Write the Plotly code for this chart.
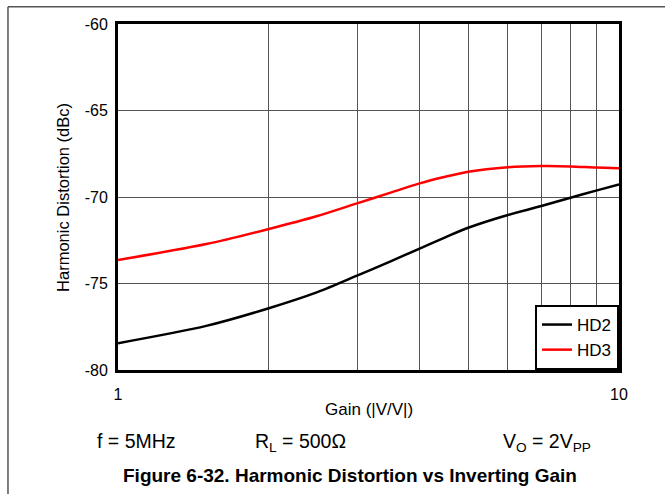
import plotly.graph_objects as go

# Harmonic distortion vs inverting gain, f = 5 MHz, RL = 500 ohm, VO = 2 Vpp
gain = [1, 1.5, 2, 2.5, 3, 3.5, 4, 4.5, 5, 6, 7, 8, 9, 10]
hd2 = [-78.45, -77.45, -76.43, -75.5, -74.55, -73.72, -72.98, -72.33, -71.78,
       -71.04, -70.52, -70.04, -69.63, -69.27]
hd3 = [-73.64, -72.72, -71.85, -71.1, -70.37, -69.75, -69.21, -68.83, -68.54,
       -68.28, -68.21, -68.23, -68.3, -68.34]

x_tickvals = [1, 2, 3, 4, 5, 6, 7, 8, 9, 10]
x_ticktext = ["1", "", "", "", "", "", "", "", "", "10"]
y_tickvals = [-80, -75, -70, -65, -60]
y_ticktext = ["-80", "-75", "-70", "-65", "-60"]

FONT = "Liberation Sans, Arial, sans-serif"

fig = go.Figure()
fig.add_trace(go.Scatter(x=gain, y=hd2, mode="lines", name="HD2",
                         line=dict(color="black", width=2.5, shape="spline", smoothing=0.8)))
fig.add_trace(go.Scatter(x=gain, y=hd3, mode="lines", name="HD3",
                         line=dict(color="#ff0000", width=2.5, shape="spline", smoothing=0.8)))

fig.update_layout(
    width=665, height=494,
    margin=dict(l=118, r=46, t=24, b=124),
    paper_bgcolor="white", plot_bgcolor="white",
    font=dict(family=FONT, size=16, color="black"),
    showlegend=True,
    legend=dict(x=1, xanchor="right", y=0, yanchor="bottom",
                bgcolor="white", bordercolor="black", borderwidth=2,
                font=dict(size=17), tracegroupgap=0),
)
fig.update_xaxes(type="log", range=[0, 1], tickvals=x_tickvals, ticktext=x_ticktext,
                 showgrid=True, gridcolor="#555555", gridwidth=1,
                 showline=True, linecolor="black", linewidth=3, mirror=True,
                 ticks="", ticklabelstandoff=8, zeroline=False)
fig.update_yaxes(range=[-80, -60], tickvals=y_tickvals, ticktext=y_ticktext,
                 showgrid=True, gridcolor="#555555", gridwidth=1,
                 showline=True, linecolor="black", linewidth=3, mirror=True,
                 ticks="", ticklabelstandoff=4, zeroline=False)

# Axis titles, conditions line and caption
fig.add_annotation(text="Harmonic Distortion (dBc)", textangle=-90,
                   xref="paper", yref="paper", x=-0.11, y=0.5,
                   xanchor="center", yanchor="middle",
                   showarrow=False, font=dict(size=16.5))
fig.add_annotation(text="Gain (|V/V|)", xref="paper", yref="paper",
                   x=0.501, y=-0.1156, xanchor="center", yanchor="middle",
                   showarrow=False, font=dict(size=17))
fig.add_annotation(text="f = 5MHz", xref="paper", yref="paper",
                   x=0.036, y=-0.205, xanchor="center", yanchor="middle",
                   showarrow=False, font=dict(size=19.5))
fig.add_annotation(text="R<sub>L</sub> = 500Ω", xref="paper", yref="paper",
                   x=0.365, y=-0.21, xanchor="center", yanchor="middle",
                   showarrow=False, font=dict(size=19.5))
fig.add_annotation(text="V<sub>O</sub> = 2V<sub>PP</sub>", xref="paper", yref="paper",
                   x=0.856, y=-0.21, xanchor="center", yanchor="middle",
                   showarrow=False, font=dict(size=19.5))
fig.add_annotation(text="<b>Figure 6-32. Harmonic Distortion vs Inverting Gain</b>",
                   xref="paper", yref="paper", x=0.463, y=-0.306,
                   xanchor="center", yanchor="middle",
                   showarrow=False, font=dict(size=19))

# Page frame: top rule and left rule
fig.add_shape(type="line", xref="paper", yref="paper",
              x0=-0.2196, x1=1.1, y0=1.05, y1=1.05,
              line=dict(color="#555555", width=1.5))
fig.add_shape(type="line", xref="paper", yref="paper",
              x0=-0.2196, x1=-0.2196, y0=1.05, y1=-0.4,
              line=dict(color="#555555", width=1.5))

fig.write_html("out.html")
